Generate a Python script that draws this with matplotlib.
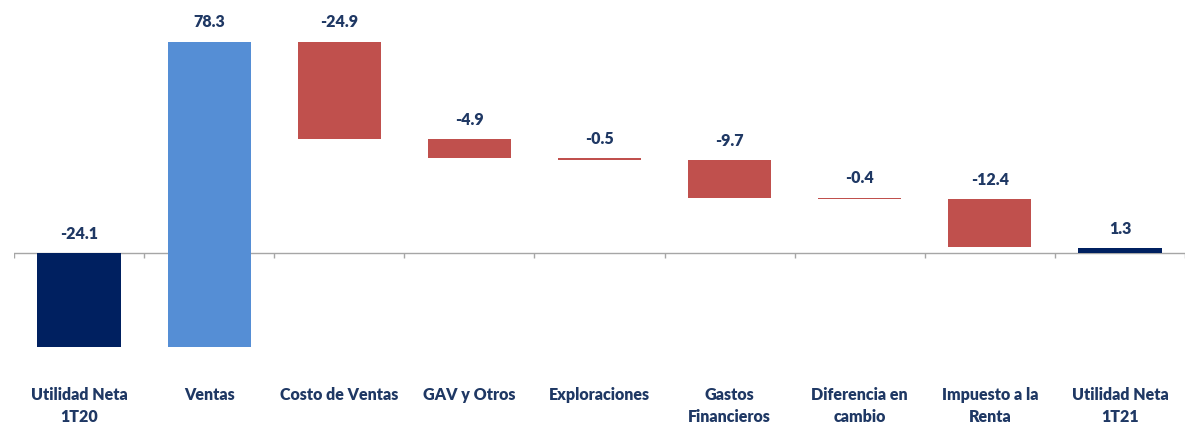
import matplotlib
matplotlib.use("Agg")
import matplotlib.pyplot as plt
import numpy as np

# waterfall data (MM US$)
categories = ["Utilidad Neta\n1T20", "Ventas", "Costo de Ventas", "GAV y Otros",
              "Exploraciones", "Gastos\nFinancieros", "Diferencia en\ncambio",
              "Impuesto a la\nRenta", "Utilidad Neta\n1T21"]
changes = [-24.1, 78.3, -24.9, -4.9, -0.5, -9.7, -0.4, -12.4, 1.3]
is_total = [True, False, False, False, False, False, False, False, True]

navy = "#002060"
blue = "#558ED5"
red = "#C0504D"
text_col = "#1F3864"

plt.rcParams['font.family'] = ['Lato', 'DejaVu Sans']

fig = plt.figure(figsize=(11.85, 4.25), dpi=100)
ax = fig.add_axes([14 / 1185, 63 / 425, 1171 / 1185, 343 / 425])

x = np.arange(len(categories))
bottoms = []
heights = []
colors = []
running = 0.0
for i, (c, tot) in enumerate(zip(changes, is_total)):
    if tot:
        bottoms.append(0.0)
        heights.append(c)
        colors.append(navy)
        running = c
    else:
        bottoms.append(running)
        heights.append(c)
        colors.append(blue if c > 0 else red)
        running += c

ax.bar(x, heights, bottom=bottoms, width=0.64, color=colors, linewidth=0)

# value labels above each bar
for i in range(len(x)):
    top = max(bottoms[i], bottoms[i] + heights[i], 0)
    ax.annotate(f"{changes[i]:.1f}", (x[i], top), xytext=(0, 8),
                textcoords="offset points", ha="center", va="bottom",
                fontsize=11.5, fontweight="heavy", color=text_col)

# zero line with category separators
ax.axhline(0, color="#A6A6A6", linewidth=1, zorder=0)
ax.vlines(np.arange(-0.5, len(x) + 0.5, 1.0), -1.3, 0, color="#A6A6A6", linewidth=1, zorder=0)

ax.set_xlim(-0.5, len(x) - 0.5)
ax.set_ylim(-28, 60)
ax.set_xticks(x)
ax.set_xticklabels(categories, fontsize=11.5, fontweight="heavy", color=text_col, linespacing=1.45)
ax.tick_params(axis="x", length=0, pad=18)
ax.set_yticks([])
for s in ax.spines.values():
    s.set_visible(False)

fig.savefig("out.png", dpi=100)
